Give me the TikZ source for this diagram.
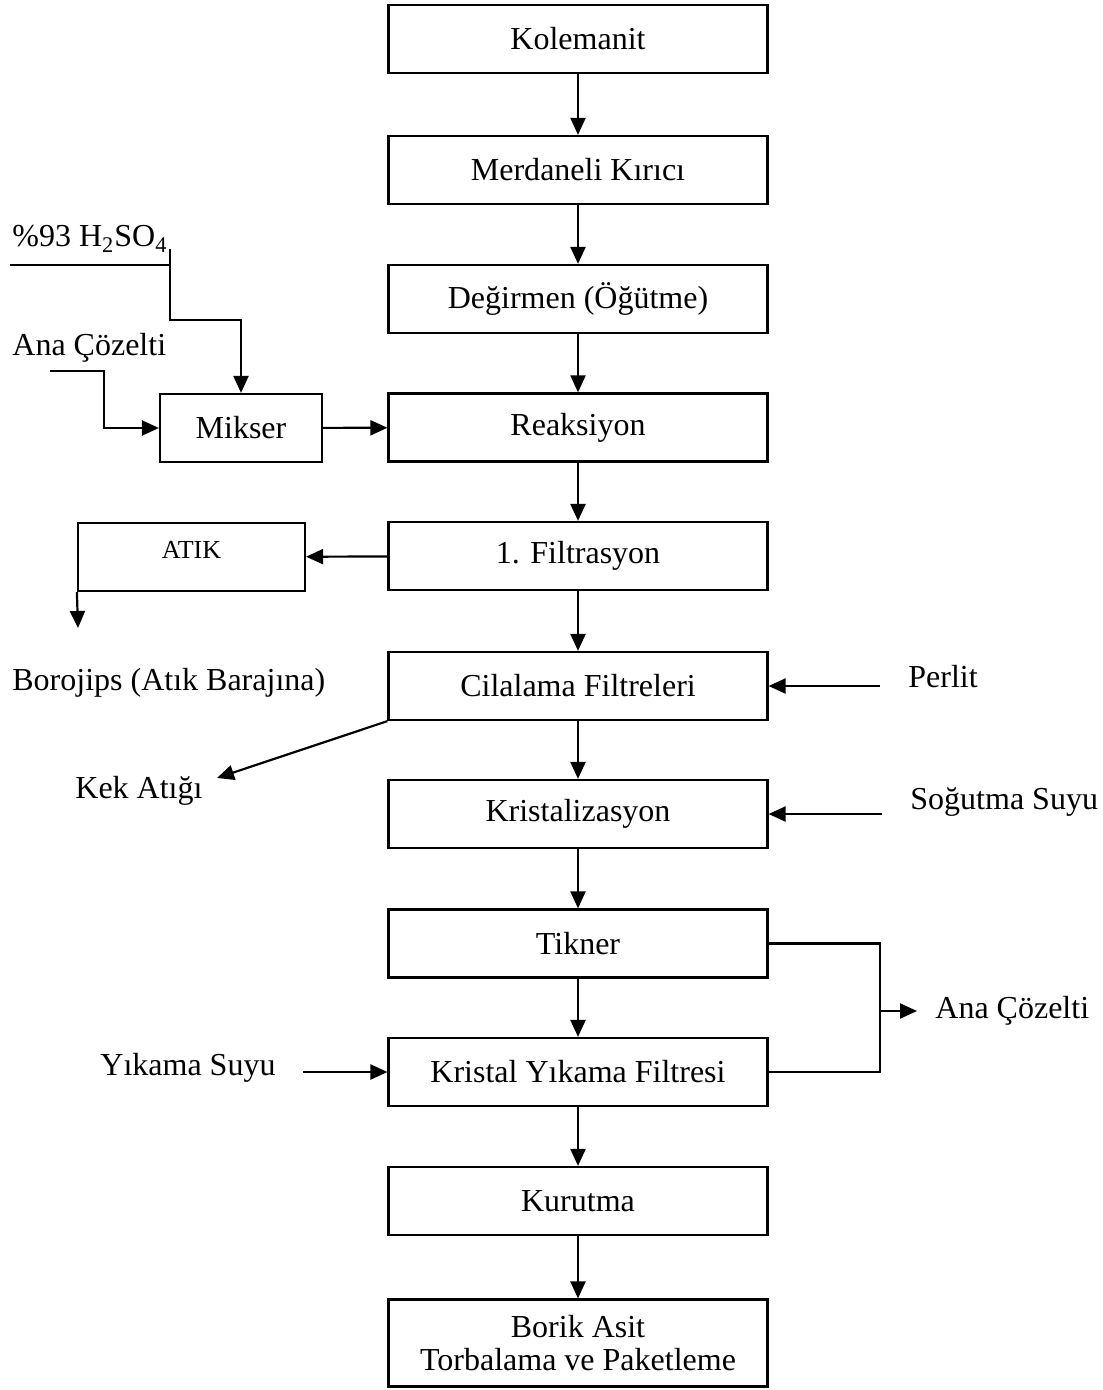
\documentclass[tikz,border=0pt]{standalone}
\usepackage{fontspec}
\setmainfont{Liberation Serif}
\usetikzlibrary{arrows.meta}

\tikzset{
  flow/.style={line width=1.1pt, -{Triangle[length=8.5pt,width=7.5pt]}},
  plain/.style={line width=1.1pt},
  stepbox/.style={draw, line width=1.1pt, minimum width=189.5pt, minimum height=34pt,
    inner sep=0pt, align=center, font=\fontsize{16}{16.5}\selectfont},
  lbl/.style={inner sep=0pt, font=\fontsize{16}{19}\selectfont, anchor=base west}
}

\begin{document}
\begin{tikzpicture}[x=0.5pt, y=-0.5pt]
  \useasboundingbox (0,0) rectangle (1102,1390);

  % main process column
  \node[stepbox] (kol)  at (578,39)    {Kolemanit};
  \node[stepbox] (mer)  at (578,170)   {Merdaneli Kırıcı};
  \node[stepbox] (deg)  at (578,299)   {Değirmen (Öğütme)};
  \node[stepbox] (rea)  at (578,427.5) {Reaksiyon};
  \node[stepbox] (fil)  at (578,556)   {1. Filtrasyon};
  \node[stepbox] (cil)  at (578,686)   {Cilalama Filtreleri};
  \node[stepbox] (kri)  at (578,814)   {Kristalizasyon};
  \node[stepbox] (tik)  at (578,943.5) {Tikner};
  \node[stepbox] (yik)  at (578,1072)  {Kristal Yıkama Filtresi};
  \node[stepbox] (kur)  at (578,1201)  {Kurutma};
  \node[stepbox, minimum height=43.5pt] (bor) at (578,1343) {Borik Asit\\Torbalama ve Paketleme};

  \foreach \a/\b in {kol/mer, mer/deg, deg/rea, rea/fil, fil/cil, cil/kri, kri/tik, tik/yik, yik/kur, kur/bor}
    \draw[flow] (\a) -- (\b);

  % mixer and its feeds
  \node[stepbox, minimum width=81pt] (mik) at (241,428) {Mikser};
  \draw[flow] (mik) -- (rea);

  \node[lbl] (h2so4) at (12,247) {\%93 H\textsubscript{2}SO\textsubscript{4}};
  \coordinate (acidin) at (10,265);
  \coordinate (acidtop) at (170,249);
  \draw[plain] (acidin) -- (acidtop |- acidin);
  \draw[flow] (acidtop) -- (170,320) -| (mik.north);

  \node[lbl] (anaL) at (12,355) {Ana Çözelti};
  \coordinate (anain) at (50,371);
  \draw[flow] (anain) -- (104,371) |- (mik.west);

  % waste from first filtration
  \node[draw, line width=1.1pt, minimum width=113.5pt, minimum height=34pt, inner sep=0pt] (atik) at (191.5,557) {};
  \node[inner sep=0pt, font=\fontsize{13}{15}\selectfont] (atiklbl) at (191.5,550) {ATIK};
  \draw[flow] (fil) -- (atik);
  \coordinate (atikout) at (78,628);
  \draw[flow] (atik.south west) -- (atikout);
  \node[lbl] (boro) at (12,690) {Borojips (Atık Barajına)};

  % polishing filters
  \node[lbl] (perlit) at (908,687) {Perlit};
  \draw[flow] (880,686) -- (cil);
  \node[lbl] (kek) at (75,798) {Kek Atığı};
  \coordinate (kekend) at (217,778);
  \draw[flow] (cil.south west) -- (kekend);

  % crystallisation cooling
  \node[lbl] (sog) at (910,809) {Soğutma Suyu};
  \draw[flow] (882,814) -- (kri);

  % mother liquor return
  \coordinate (ret) at (880,1011);
  \draw[plain] (tik.east) -- (ret |- tik.east) -- (ret |- yik.east) -- (yik.east);
  \node[lbl] (anaR) at (935,1018) {Ana Çözelti};
  \draw[flow] (ret) -- (917,1011);

  % wash water
  \node[lbl] (yikama) at (100,1075) {Yıkama Suyu};
  \draw[flow] (303,1072) -- (yik);
\end{tikzpicture}
\end{document}
